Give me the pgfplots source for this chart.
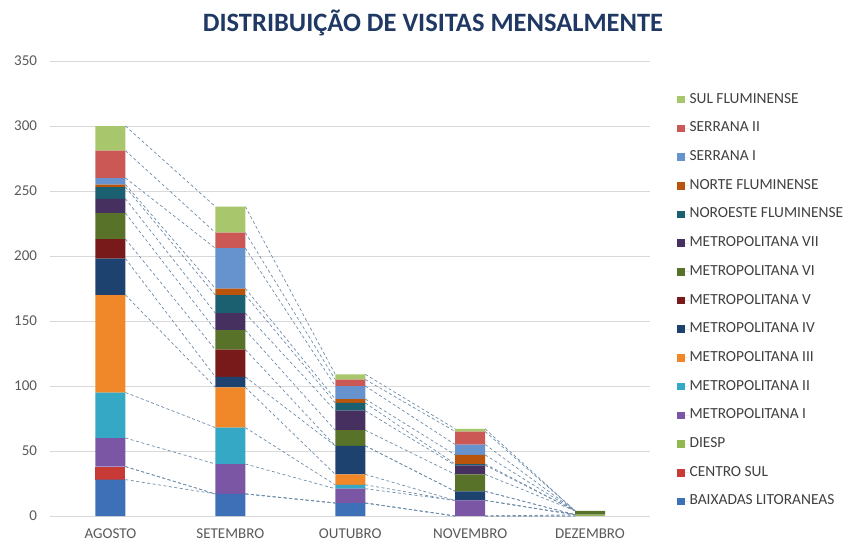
\documentclass[border=0pt]{standalone}
\usepackage{pgfplots}
\pgfplotsset{compat=1.18}
\usepackage{pgfplotstable}
\usepackage{fontspec}
\setmainfont{Carlito}

\definecolor{cBL}{RGB}{62,112,184}
\definecolor{cCS}{RGB}{200,58,54}
\definecolor{cDI}{RGB}{146,184,80}
\definecolor{cM1}{RGB}{122,86,164}
\definecolor{cM2}{RGB}{52,168,196}
\definecolor{cM3}{RGB}{240,135,40}
\definecolor{cM4}{RGB}{30,66,112}
\definecolor{cM5}{RGB}{120,26,26}
\definecolor{cM6}{RGB}{88,114,42}
\definecolor{cM7}{RGB}{70,48,96}
\definecolor{cNO}{RGB}{26,96,112}
\definecolor{cNF}{RGB}{184,84,12}
\definecolor{cS1}{RGB}{102,146,206}
\definecolor{cS2}{RGB}{204,88,86}
\definecolor{cSF}{RGB}{168,198,108}
\definecolor{gridgray}{RGB}{217,217,217}
\definecolor{labelgray}{RGB}{89,89,89}
\definecolor{leggray}{RGB}{64,64,64}
\definecolor{titleblue}{RGB}{31,56,100}
\definecolor{serline}{RGB}{110,140,170}

\pgfplotstableread{
idx BL CS DI M1 M2 M3 M4 M5 M6 M7 NO NF S1 S2 SF
0 28 10 0 22 35 75 28 15 20 11 9 2 5 21 19
1 17 0 0 23 28 31 8 21 15 13 14 5 31 12 20
2 10 0 0 11 3 8 22 0 12 15 6 3 10 5 4
3 0 0 0 12 0 0 7 0 13 7 1 7 8 10 2
4 0 0 1 0 0 0 0 0 3 0 0 0 0 0 0
}\datatable

% cumulative tops of each series at the bar edges (series lines)
\pgfplotstableread{
x c1 c2 c3 c4 c5 c6 c7 c8 c9 c10 c11 c12 c13 c14 c15
0.125 28 38 38 60 95 170 198 213 233 244 253 255 260 281 300
0.875 17 17 17 40 68 99 107 128 143 156 170 175 206 218 238
nan nan nan nan nan nan nan nan nan nan nan nan nan nan nan nan
1.125 17 17 17 40 68 99 107 128 143 156 170 175 206 218 238
1.875 10 10 10 21 24 32 54 54 66 81 87 90 100 105 109
nan nan nan nan nan nan nan nan nan nan nan nan nan nan nan nan
2.125 10 10 10 21 24 32 54 54 66 81 87 90 100 105 109
2.875 0 0 0 12 12 12 19 19 32 39 40 47 55 65 67
nan nan nan nan nan nan nan nan nan nan nan nan nan nan nan nan
3.125 0 0 0 12 12 12 19 19 32 39 40 47 55 65 67
3.875 0 0 1 1 1 1 1 1 4 4 4 4 4 4 4
}\linetable

\begin{document}
\begin{tikzpicture}
\path[use as bounding box] (0,0) rectangle (845pt,542pt);
\node[anchor=base, font=\fontsize{26.5}{26.5}\selectfont\bfseries, text=titleblue, inner sep=0pt] at (433pt,510.3pt) {DISTRIBUIÇÃO DE VISITAS MENSALMENTE};

\pgfplotsset{common/.style={
  at={(50.5pt,26pt)}, anchor=south west, scale only axis,
  width=599.5pt, height=455pt,
  xmin=-0.5, xmax=4.5, ymin=0, ymax=350,
}}

\begin{axis}[common,
  ytick={0,50,...,350},
  xtick={0,1,2,3,4},
  xticklabels={AGOSTO,SETEMBRO,OUTUBRO,NOVEMBRO,DEZEMBRO},
  ymajorgrids, grid style={draw=gridgray, line width=0.8pt},
  axis line style={draw=none},
  major tick length=0pt,
  tick label style={font=\fontsize{15}{15}\selectfont, text=labelgray},
  yticklabel style={/pgf/number format/assume math mode=true, xshift=-10pt},
  xticklabel style={yshift=-9pt},
  unbounded coords=jump,
]
\pgfplotsinvokeforeach{1,...,15}{
  \addplot[serline, line width=0.7pt, dash pattern=on 3pt off 2.5pt, forget plot] table[x=x, y=c#1] {\linetable};
}
\end{axis}

\begin{axis}[common,
  hide axis,
  ybar stacked, bar width=30pt,
  reverse legend,
  legend cell align=left,
  legend image code/.code={\fill[#1] (0pt,-3.8pt) rectangle (7.6pt,3.8pt); \path (0pt,0pt) -- (12.4pt,0pt);},
  legend style={at={(1.045,0.931)}, anchor=north west, draw=none, fill=none,
    inner sep=0pt, row sep=14.7pt,
    font=\fontsize{15.4}{15.4}\selectfont, text=leggray,
    nodes={inner sep=0pt, text height=10.5pt, text depth=3.5pt}},
]
\addplot[fill=cBL, draw=none] table[x=idx, y=BL] {\datatable};
\addlegendentry{BAIXADAS LITORANEAS}
\addplot[fill=cCS, draw=none] table[x=idx, y=CS] {\datatable};
\addlegendentry{CENTRO SUL}
\addplot[fill=cDI, draw=none] table[x=idx, y=DI] {\datatable};
\addlegendentry{DIESP}
\addplot[fill=cM1, draw=none] table[x=idx, y=M1] {\datatable};
\addlegendentry{METROPOLITANA I}
\addplot[fill=cM2, draw=none] table[x=idx, y=M2] {\datatable};
\addlegendentry{METROPOLITANA II}
\addplot[fill=cM3, draw=none] table[x=idx, y=M3] {\datatable};
\addlegendentry{METROPOLITANA III}
\addplot[fill=cM4, draw=none] table[x=idx, y=M4] {\datatable};
\addlegendentry{METROPOLITANA IV}
\addplot[fill=cM5, draw=none] table[x=idx, y=M5] {\datatable};
\addlegendentry{METROPOLITANA V}
\addplot[fill=cM6, draw=none] table[x=idx, y=M6] {\datatable};
\addlegendentry{METROPOLITANA VI}
\addplot[fill=cM7, draw=none] table[x=idx, y=M7] {\datatable};
\addlegendentry{METROPOLITANA VII}
\addplot[fill=cNO, draw=none] table[x=idx, y=NO] {\datatable};
\addlegendentry{NOROESTE FLUMINENSE}
\addplot[fill=cNF, draw=none] table[x=idx, y=NF] {\datatable};
\addlegendentry{NORTE FLUMINENSE}
\addplot[fill=cS1, draw=none] table[x=idx, y=S1] {\datatable};
\addlegendentry{SERRANA I}
\addplot[fill=cS2, draw=none] table[x=idx, y=S2] {\datatable};
\addlegendentry{SERRANA II}
\addplot[fill=cSF, draw=none] table[x=idx, y=SF] {\datatable};
\addlegendentry{SUL FLUMINENSE}
\end{axis}
\end{tikzpicture}
\end{document}
